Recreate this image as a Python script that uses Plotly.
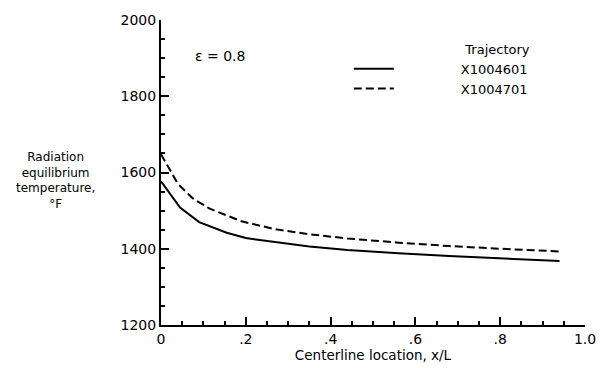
import plotly.graph_objects as go

x_4601 = [0.0, 0.045, 0.09, 0.155, 0.2, 0.27, 0.35, 0.44, 0.56, 0.68, 0.8, 0.94]
t_4601 = [1577, 1508, 1470, 1442, 1428, 1417, 1406, 1397, 1388, 1381, 1375, 1368]
x_4701 = [0.0, 0.04, 0.075, 0.115, 0.19, 0.27, 0.35, 0.44, 0.56, 0.68, 0.8, 0.94]
t_4701 = [1648, 1570, 1532, 1505, 1472, 1451, 1438, 1427, 1416, 1407, 1400, 1393]

series_names = ["X1004601", "X1004701"]
legend_title = "Trajectory"

x_ticks = [0, 0.2, 0.4, 0.6, 0.8, 1.0]
x_ticktext = ["0", ".2", ".4", ".6", ".8", "1.0"]
y_ticks = [1200, 1400, 1600, 1800, 2000]

FONT = "DejaVu Sans, Liberation Sans, sans-serif"
PAD = "\u00a0" * 15  # visual gap between legend line sample and its label

fig = go.Figure()
fig.add_trace(go.Scatter(x=x_4601, y=t_4601, mode="lines", name=PAD + series_names[0],
                         line=dict(color="black", width=2)))
fig.add_trace(go.Scatter(x=x_4701, y=t_4701, mode="lines", name=PAD + series_names[1],
                         line=dict(color="black", width=2, dash="8px,4px")))

fig.update_layout(
    width=608, height=368,
    margin=dict(l=161, r=20, t=15, b=41),
    paper_bgcolor="white", plot_bgcolor="white",
    font=dict(family=FONT, size=13, color="black"),
    showlegend=True,
    legend=dict(
        x=0.443, y=0.945, xanchor="left", yanchor="top",
        bgcolor="rgba(0,0,0,0)",
        title=dict(text=legend_title, side="top right", font=dict(size=13)),
        itemwidth=40, tracegroupgap=2,
        font=dict(size=13),
    ),
    xaxis=dict(
        range=[0, 1.0], tickvals=x_ticks, ticktext=x_ticktext,
        showgrid=False, zeroline=False, showline=True, linecolor="black", linewidth=2,
        ticks="inside", ticklen=8, tickwidth=2, tickcolor="black",
        minor=dict(dtick=0.05, ticks="inside", ticklen=4, tickcolor="black", tickwidth=1.5, showgrid=False),
        tickfont=dict(size=14),
        title=dict(text="Centerline location, x/L", font=dict(size=13.5), standoff=0),
        fixedrange=True,
    ),
    yaxis=dict(
        range=[1200, 2000], tickvals=y_ticks,
        showgrid=False, zeroline=False, showline=True, linecolor="black", linewidth=2,
        ticks="inside", ticklen=8, tickwidth=2, tickcolor="black",
        minor=dict(dtick=50, ticks="inside", ticklen=4, tickcolor="black", tickwidth=1.5, showgrid=False),
        tickfont=dict(size=14),
        fixedrange=True,
    ),
    annotations=[
        dict(text="Radiation<br>equilibrium<br>temperature,<br>°F", xref="paper", yref="paper",
             x=-0.25, y=0.474, xanchor="center", yanchor="middle", showarrow=False,
             align="center", font=dict(size=12)),
        dict(text="ε = 0.8", xref="paper", yref="paper", x=0.14, y=0.881,
             xanchor="center", yanchor="middle", showarrow=False, font=dict(size=14)),
    ],
)

fig.write_html("out.html")
